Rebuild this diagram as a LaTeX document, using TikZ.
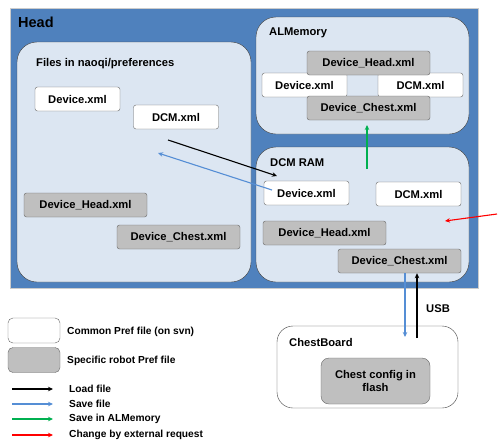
\documentclass[tikz,border=0pt]{standalone}
\usepackage{fontspec}
\setmainfont{Liberation Sans}
\usetikzlibrary{arrows.meta,positioning}

\definecolor{headblue}{HTML}{4F81BD}
\definecolor{areablue}{HTML}{DCE6F2}
\definecolor{saveblue}{HTML}{558ED5}
\definecolor{memgreen}{HTML}{00B050}

\begin{document}
\begin{tikzpicture}[x=1pt,y=-1pt,
	every node/.style={font=\bfseries\fontsize{11.2}{13}\selectfont},
	file/.style={draw=black!60, rounded corners=2.5pt, fill=white, minimum width=85pt, minimum height=24pt, inner sep=0pt},
	robotfile/.style={file, fill=black!25, minimum width=123pt},
	area/.style={draw=black!75, fill=areablue, rounded corners=20pt},
	label/.style={anchor=west, inner sep=0pt},
	legendtext/.style={label, font=\bfseries\fontsize{10.2}{12}\selectfont},
	link/.style={-{Stealth[length=5pt,width=4.5pt]}, line width=1.1pt}]

	\useasboundingbox (0,0) rectangle (500,445);

	% Head
	\draw[black!20, fill=headblue] (10,8) rectangle (478,288);
	\node[label, font=\bfseries\fontsize{14.5}{16}\selectfont] (head) at (18,22) {Head};

	% Files in naoqi/preferences
	\draw[area] (17,42) rectangle (251,282);
	\node[label] (prefs) at (36,64) {Files in naoqi/preferences};
	\node[file] (prefdev) at (77.5,99) {Device.xml};
	\node[file] (prefdcm) at (176,117) {DCM.xml};
	\node[robotfile] (prefhead) at (85.5,205) {Device\_Head.xml};
	\node[robotfile] (prefchest) at (178.5,237) {Device\_Chest.xml};

	% ALMemory
	\draw[area] (256,17) rectangle (469,134);
	\node[label] (mem) at (269,33) {ALMemory};
	\node[file] (memdev) at (304.5,85) {Device.xml};
	\node[file] (memdcm) at (420.5,85) {DCM.xml};
	\node[robotfile] (memhead) at (368.5,63) {Device\_Head.xml};
	\node[robotfile] (memchest) at (368.5,108) {Device\_Chest.xml};

	% DCM RAM
	\draw[area] (256,147) rectangle (469,282);
	\node[label] (ram) at (270,163) {DCM RAM};
	\node[file] (ramdev) at (306.5,193) {Device.xml};
	\node[file] (ramdcm) at (418.5,194) {DCM.xml};
	\node[robotfile] (ramhead) at (324.5,233) {Device\_Head.xml};
	\node[robotfile] (ramchest) at (399.5,261) {Device\_Chest.xml};

	% ChestBoard
	\draw[draw=black!75, fill=white, rounded corners=16pt] (277,326) rectangle (458,408);
	\node[label] (board) at (289,342) {ChestBoard};
	\node[robotfile, minimum width=109pt, minimum height=46pt, rounded corners=8pt, align=center] (flash) at (375.5,381) {Chest config in\\flash};

	% arrows
	\coordinate (loadfrom) at (168,140);
	\coordinate (loadto) at (277,176);
	\coordinate (savefrom) at (272,190);
	\coordinate (saveto) at (158,153);
	\coordinate (memfrom) at (367,169);
	\coordinate (memto) at (367,125);
	\coordinate (extfrom) at (497,214);
	\coordinate (extto) at (445,221);
	\coordinate (usbsave) at (405,337);
	\coordinate (usbload) at (417,338);
	\draw[link] (loadfrom) -- (loadto);
	\draw[link, saveblue] (savefrom) -- (saveto);
	\draw[link, memgreen] (memfrom) -- (memto);
	\draw[link, red] (extfrom) -- (extto);
	\draw[link, saveblue] (ramchest.south -| usbsave) -- (usbsave);
	\draw[link] (usbload) -- (ramchest.south -| usbload);
	\node[label] (usb) at (426,309) {USB};

	% legend
	\node[file, minimum width=52pt, minimum height=25pt, rounded corners=5pt] (common) at (34,330.5) {};
	\node[file, fill=black!25, minimum width=52pt, minimum height=25pt, rounded corners=5pt] (specific) at (34,360) {};
	\node[legendtext] at (67,332) {Common Pref file (on svn)};
	\node[legendtext] at (67,361) {Specific robot Pref file};
	\foreach \y/\c/\t in {389/black/Load file, 404/saveblue/Save file, 419/memgreen/Save in ALMemory, 435/red/Change by external request} {
		\draw[link, \c] (12,\y) -- (53,\y);
		\node[legendtext] at (69,\y) {\t};
	}

\end{tikzpicture}
\end{document}
